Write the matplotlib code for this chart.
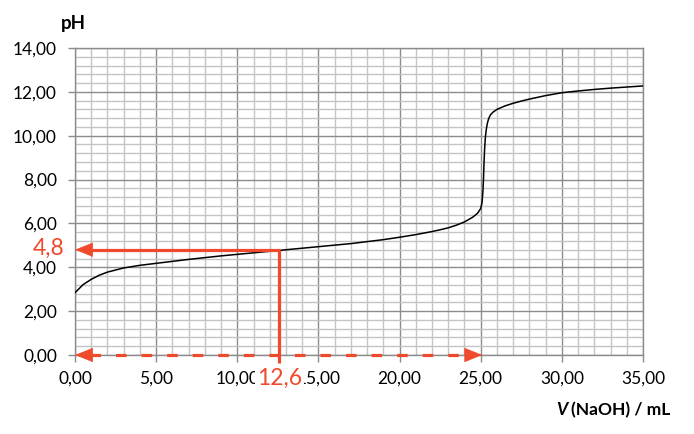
import matplotlib
matplotlib.use("Agg")
import matplotlib.pyplot as plt
from matplotlib.ticker import MultipleLocator, FuncFormatter

plt.rcParams['font.family'] = ['Lato', 'DejaVu Sans']

# Titration curve
volume = [0, 0.5, 1.0, 1.5, 2, 3, 4, 5, 6, 7, 8, 9, 10, 11, 12, 12.6, 13, 14, 15,
          16, 17, 18, 19, 20, 21, 22, 22.5, 23, 23.5, 24, 24.5, 24.8, 25.0, 25.08,
          25.13, 25.17, 25.2, 25.24, 25.29, 25.35, 25.42, 25.5, 25.6, 25.75, 26.0,
          26.5, 27, 27.5, 28, 29, 30, 31, 32, 33, 34, 35]
ph = [2.84, 3.21, 3.45, 3.64, 3.78, 3.97, 4.09, 4.18, 4.27, 4.36, 4.44, 4.52, 4.59,
      4.66, 4.73, 4.77, 4.80, 4.87, 4.94, 5.01, 5.08, 5.17, 5.26, 5.37, 5.49, 5.63,
      5.71, 5.80, 5.92, 6.07, 6.28, 6.46, 6.68, 6.95, 7.4, 8.0, 8.7, 9.4, 9.95,
      10.32, 10.6, 10.8, 10.95, 11.07, 11.20, 11.36, 11.48, 11.58, 11.67, 11.83,
      11.96, 12.04, 12.11, 12.17, 12.22, 12.27]

half_eq_volume = 12.6
half_eq_ph = 4.8
eq_volume = 25.1

red = '#EF4A2C'

fig = plt.figure(figsize=(6.94, 4.34), dpi=100)
ax = fig.add_axes([75/694, 1 - 355/434, (643-75)/694, (355-48)/434])

ax.set_xlim(0, 35)
ax.set_ylim(0, 14)
ax.xaxis.set_major_locator(MultipleLocator(5))
ax.xaxis.set_minor_locator(MultipleLocator(1))
ax.yaxis.set_major_locator(MultipleLocator(2))
ax.yaxis.set_minor_locator(MultipleLocator(0.4))
fmt = FuncFormatter(lambda v, p: f"{v:.2f}".replace('.', ','))
ax.xaxis.set_major_formatter(fmt)
ax.yaxis.set_major_formatter(fmt)

ax.grid(which='minor', color='#c4c4c4', lw=1.0)
ax.grid(which='major', color='#8c8c8c', lw=1.0)
ax.set_axisbelow(True)
for s in ax.spines.values():
    s.set_color('#8c8c8c')
    s.set_linewidth(1.0)
ax.tick_params(which='major', length=5, width=1, color='#8c8c8c', labelsize=12.5, pad=8)
ax.tick_params(axis='x', which='major', pad=6)
ax.tick_params(which='minor', length=0)

ax.plot(volume, ph, color='black', lw=1.1, zorder=3)

# Red construction lines
ax.plot([half_eq_volume, half_eq_volume], [half_eq_ph, -0.35], color=red, lw=2.3,
        solid_capstyle='butt', zorder=4, clip_on=False)
ax.plot([half_eq_volume + 0.02, 0.9], [half_eq_ph, half_eq_ph], color=red, lw=2.3,
        solid_capstyle='butt', zorder=4)
arrow = dict(arrowstyle='-|>,head_length=12,head_width=4.8', mutation_scale=1,
             color=red, lw=0.5, shrinkA=0, shrinkB=0)
ax.annotate('', xy=(0, half_eq_ph), xytext=(1.0, half_eq_ph), arrowprops=arrow,
            annotation_clip=False, zorder=5)
ax.plot([0.9, eq_volume - 0.9], [0, 0], color=red, lw=2.3, ls=(0, (3.3, 4.7)),
        zorder=4, clip_on=False)
ax.annotate('', xy=(0, 0), xytext=(1.0, 0), arrowprops=arrow,
            annotation_clip=False, zorder=5)
ax.annotate('', xy=(eq_volume, 0), xytext=(eq_volume - 1.0, 0), arrowprops=arrow,
            annotation_clip=False, zorder=5)

ax.text(-1.6, half_eq_ph + 0.05, '4,8', color=red, fontsize=16.5, ha='center', va='center',
        clip_on=False, zorder=6)
ax.text(half_eq_volume, -1.05, '12,6', color=red, fontsize=16.5, ha='center', va='center',
        clip_on=False, zorder=6,
        bbox=dict(boxstyle='square,pad=0.08', fc='white', ec='none'))

fig.text(73/694, 1 - 24/434, 'pH', fontsize=13.5, fontweight='bold', ha='center', va='center')
fig.text(670/694, 1 - 410/434, '(NaOH) / mL', fontsize=12.5, fontweight='bold',
         ha='right', va='center')
fig.text(567/694, 1 - 410/434, 'V', fontsize=12.5, fontweight='bold', style='italic',
         ha='right', va='center')

fig.savefig('out.png', dpi=100)
